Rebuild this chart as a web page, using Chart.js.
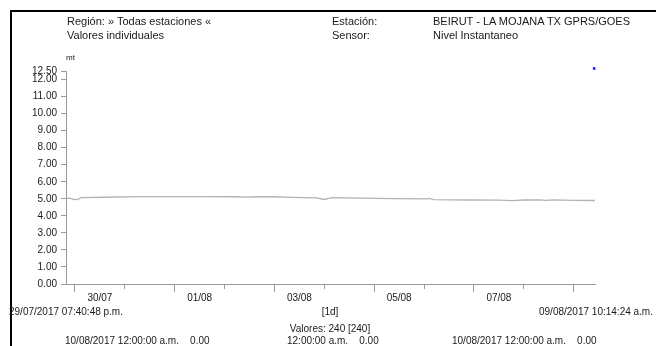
<!DOCTYPE html>
<html lang="es">
<head>
<meta charset="UTF-8">
<title>BEIRUT - LA MOJANA TX GPRS/GOES - Nivel Instantaneo</title>
<script src="https://cdn.jsdelivr.net/npm/chart.js"></script>
<style>
    body {
        margin: 0;
        width: 656px;
        height: 346px;
        overflow: hidden;
        background: #fff;
        font-family: "Liberation Sans", Arial, sans-serif;
        color: #1a1a1a;
    }
    #wrap {
        position: relative;
        width: 656px;
        height: 346px;
    }
    canvas {
        position: absolute;
        left: 0;
        top: 0;
    }
    .frame {
        position: absolute;
        left: 10px;
        top: 10px;
        width: 700px;
        height: 400px;
        border-top: 2px solid #000;
        border-left: 2px solid #000;
    }
    .t {
        position: absolute;
        white-space: pre;
        line-height: 13px;
    }
    .h { font-size: 11px; }
    .f { font-size: 10px; }
</style>
</head>
<body>
<div id="wrap">
    <div class="frame"></div>
    <canvas id="chart" width="656" height="346"></canvas>

    <div class="t h" style="left:67px; top:15px;">Región: » Todas estaciones «</div>
    <div class="t h" style="left:67px; top:29px;">Valores individuales</div>
    <div class="t h" style="left:332px; top:15px;">Estación:</div>
    <div class="t h" style="left:332px; top:29px;">Sensor:</div>
    <div class="t h" style="left:433px; top:15px;">BEIRUT - LA MOJANA TX GPRS/GOES</div>
    <div class="t h" style="left:433px; top:29px;">Nivel Instantaneo</div>
    <div class="t" style="left:66px; top:53px; font-size:8px; line-height:10px;">mt</div>

    <div class="t f" style="left:6px; top:305px; width:120px; text-align:center;">29/07/2017 07:40:48 p.m.</div>
    <div class="t f" style="left:300px; top:305px; width:60px; text-align:center;">[1d]</div>
    <div class="t f" style="left:536px; top:305px; width:120px; text-align:center;">09/08/2017 10:14:24 a.m.</div>
    <div class="t f" style="left:270px; top:322px; width:120px; text-align:center;">Valores: 240 [240]</div>
    <div class="t f" style="left:65px; top:334px;">10/08/2017 12:00:00 a.m.    0.00</div>
    <div class="t f" style="left:287px; top:334px;">12:00:00 a.m.    0.00</div>
    <div class="t f" style="left:452px; top:334px;">10/08/2017 12:00:00 a.m.    0.00</div>
</div>
<script>
    // tiempo en días desde 30/07/2017 00:00
    const xMin = -(4 + 19 / 60 + 12 / 3600) / 24;     // 29/07/2017 19:40:48
    const xMax = 10 + (10 + 14 / 60 + 24 / 3600) / 24; // 09/08/2017 10:14:24

    const dayTicks = [0, 1, 2, 3, 4, 5, 6, 7, 8, 9, 10];
    const dayLabelPos = [0.5, 2.5, 4.5, 6.5, 8.5];
    const dayLabels = ['30/07', '01/08', '03/08', '05/08', '07/08'];

    const yTicks = [0, 1, 2, 3, 4, 5, 6, 7, 8, 9, 10, 11, 12, 12.5];

    const nivelX = [-0.18, -0.08, -0.02, 0.06, 0.12, 0.6, 1.28, 2.0, 2.6, 3.23, 3.4, 3.69, 3.95,
        4.35, 4.85, 4.99, 5.08, 5.16, 5.7, 6.4, 7.06, 7.1, 7.2, 7.9, 8.5, 8.77, 9.0, 9.31,
        9.45, 9.57, 10.0, 10.37, 10.43];
    const nivelY = [5.04, 5.02, 4.95, 4.96, 5.07, 5.09, 5.13, 5.13, 5.13, 5.12, 5.10, 5.12, 5.12,
        5.08, 5.06, 4.96, 5.03, 5.07, 5.04, 5.01, 5.00, 5.02, 4.95, 4.93, 4.92, 4.89, 4.93, 4.94,
        4.91, 4.94, 4.91, 4.90, 4.90];

    const markerX = [10.41];
    const markerY = [12.65];

    Chart.defaults.font.family = '"Liberation Sans", Arial, sans-serif';
    Chart.defaults.color = '#1a1a1a';

    const axisColor = '#9a9a9a';

    new Chart(document.getElementById('chart').getContext('2d'), {
        type: 'line',
        data: {
            datasets: [{
                data: nivelX.map((x, i) => ({ x: x, y: nivelY[i] })),
                borderColor: '#b3b3b3',
                borderWidth: 1.3,
                pointRadius: 0,
                tension: 0,
                fill: false
            }, {
                data: markerX.map((x, i) => ({ x: x, y: markerY[i] })),
                showLine: false,
                pointStyle: 'rect',
                pointRadius: 1.8,
                pointBorderWidth: 0,
                pointBackgroundColor: '#1414ff',
                clip: false
            }]
        },
        options: {
            responsive: false,
            animation: false,
            layout: { padding: { top: 71, right: 61, left: 0, bottom: 0 } },
            plugins: { legend: { display: false }, tooltip: { enabled: false } },
            scales: {
                x: {
                    type: 'linear',
                    min: xMin,
                    max: xMax,
                    afterBuildTicks: s => {
                        s.ticks = dayTicks.concat(dayLabelPos).sort((a, b) => a - b).map(v => ({ value: v }));
                    },
                    afterFit: s => { s.height = 62; },
                    ticks: {
                        autoSkip: false,
                        maxRotation: 0,
                        padding: 0,
                        font: { size: 10 },
                        callback: v => {
                            const i = dayLabelPos.indexOf(v);
                            return i >= 0 ? dayLabels[i] : '';
                        }
                    },
                    grid: {
                        drawOnChartArea: false,
                        tickLength: 8,
                        tickWidth: 1,
                        tickColor: c => dayTicks.includes(c.tick.value) ? axisColor : 'rgba(0,0,0,0)',
                        tickBorderDash: c => (c.tick.value % 2 === 1) ? [4, 20] : []
                    },
                    border: { color: axisColor, width: 1 }
                },
                y: {
                    min: 0,
                    max: 12.5,
                    afterBuildTicks: s => { s.ticks = yTicks.map(v => ({ value: v })); },
                    afterFit: s => { s.width = 66; },
                    ticks: {
                        autoSkip: false,
                        padding: 4,
                        font: { size: 10 },
                        callback: v => v.toFixed(2)
                    },
                    grid: {
                        drawOnChartArea: false,
                        tickLength: 5,
                        tickColor: axisColor
                    },
                    border: { color: axisColor, width: 1 }
                }
            }
        }
    });
</script>
</body>
</html>
